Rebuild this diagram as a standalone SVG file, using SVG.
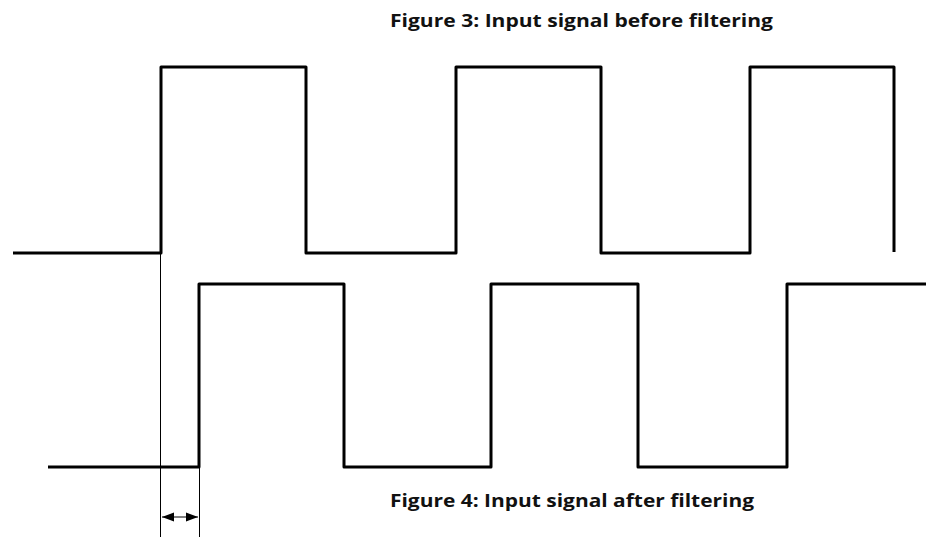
<svg xmlns="http://www.w3.org/2000/svg" width="926" height="538" viewBox="0 0 926 538">
<style>
.sig{fill:none;stroke:#000;stroke-width:3;stroke-linejoin:round;stroke-linecap:butt}
.thin{fill:none;stroke:#000;stroke-width:1}
.lbl{font-family:"Open Sans","Liberation Sans",Arial,sans-serif;font-weight:bold;font-size:18px;fill:#111}
</style>
<defs>
<marker id="ah" viewBox="0 0 12 10" refX="12" refY="5" markerWidth="12" markerHeight="10" markerUnits="userSpaceOnUse" orient="auto-start-reverse">
<path d="M0,0.5 L12,5 L0,9.5 Z" fill="#000"/>
</marker>
</defs>
<rect width="926" height="538" fill="#fff"/>
<g id="title-before"><text class="lbl" x="390" y="27" textLength="383" lengthAdjust="spacingAndGlyphs">Figure 3: Input signal before filtering</text></g>
<g id="title-after"><text class="lbl" x="390" y="507" textLength="364" lengthAdjust="spacingAndGlyphs">Figure 4: Input signal after filtering</text></g>
<g id="signal-before"><path class="sig" d="M13,253 H161 V67 H306 V253 H456 V67 H601 V253 H750 V67 H894 V252"/></g>
<g id="signal-after"><path class="sig" d="M48,467 H199 V284 H344 V467 H491 V284 H638 V467 H787 V284 H926"/></g>
<g id="connectors">
<line class="thin" x1="160.5" y1="253" x2="160.5" y2="537"/>
<line class="thin" x1="199.5" y1="467" x2="199.5" y2="537"/>
<line class="thin" x1="162" y1="517" x2="198" y2="517" marker-start="url(#ah)" marker-end="url(#ah)"/>
</g>
</svg>
